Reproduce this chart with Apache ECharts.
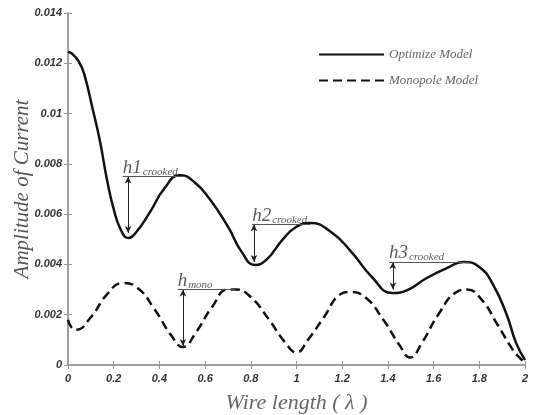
<!DOCTYPE html>
<html>
<head>
<meta charset="utf-8">
<script src="https://cdn.jsdelivr.net/npm/echarts@6/dist/echarts.min.js"></script>
<style>html,body{margin:0;padding:0;background:#fff;}#c{width:536px;height:415px;}</style>
</head>
<body>
<div id="c"></div>
<script>
// Optimize Model (solid)
var optX = [0, 0.015, 0.045, 0.07, 0.11, 0.14, 0.17, 0.2, 0.23, 0.263, 0.30, 0.36, 0.42, 0.49, 0.55, 0.62, 0.70, 0.76, 0.818, 0.87, 0.94, 1.0, 1.06, 1.15, 1.24, 1.33, 1.42, 1.49, 1.57, 1.66, 1.73, 1.80, 1.86, 1.92, 1.96, 2.0];
var optY = [0.01245, 0.0124, 0.0121, 0.0116, 0.0101, 0.0089, 0.0074, 0.0062, 0.0054, 0.00505, 0.0053, 0.0061, 0.0070, 0.00755, 0.0073, 0.0066, 0.0055, 0.0045, 0.00398, 0.0042, 0.0050, 0.0055, 0.00565, 0.0053, 0.0045, 0.0035, 0.00286, 0.0030, 0.00346, 0.00386, 0.0041, 0.0039, 0.0032, 0.0020, 0.0009, 0.0002];
// Monopole Model (dashed)
var monoX = [0, 0.015, 0.035, 0.1, 0.17, 0.24, 0.30, 0.38, 0.45, 0.503, 0.56, 0.63, 0.70, 0.735, 0.80, 0.88, 0.95, 1.0, 1.05, 1.12, 1.19, 1.234, 1.30, 1.38, 1.45, 1.497, 1.55, 1.62, 1.70, 1.746, 1.81, 1.88, 1.94, 1.975, 2.0];
var monoY = [0.0018, 0.0015, 0.0014, 0.0019, 0.0028, 0.00326, 0.0031, 0.0022, 0.0012, 0.00072, 0.0013, 0.0023, 0.0030, 0.0030, 0.0027, 0.0018, 0.0009, 0.0005, 0.0010, 0.0019, 0.0028, 0.0029, 0.0027, 0.0018, 0.0008, 0.0003, 0.0009, 0.0020, 0.0029, 0.0030, 0.0026, 0.0016, 0.0007, 0.0003, 0.0001];

var seriesNames = ['Optimize Model', 'Monopole Model'];
var xTicks = {min: 0, max: 2, interval: 0.2};
var yTicks = {min: 0, max: 0.014, interval: 0.002};

// Annotations: arrow x, arrow low y, arrow high y (= level), level line start x, end x
var annNames = ['h1', 'h2', 'h3', 'h'];
var annSubs = ['crooked', 'crooked', 'crooked', 'mono'];
var annArrowX = [0.263, 0.814, 1.422, 0.503];
var annLowY = [0.00525, 0.0041, 0.0030, 0.00076];
var annLevelY = [0.0075, 0.0056, 0.0041, 0.0030];
var annLineX0 = [0.24, 0.806, 1.405, 0.48];
var annLineX1 = [0.512, 1.06, 1.76, 0.73];

function pairs(xs, ys) { return xs.map(function (x, i) { return [x, ys[i]]; }); }

var markLines = [];
for (var i = 0; i < annNames.length; i++) {
  markLines.push([
    {coord: [annArrowX[i], annLowY[i]], symbol: 'arrow', symbolSize: [5, 7], lineStyle: {color: '#222', width: 1, type: 'solid'}},
    {coord: [annArrowX[i], annLevelY[i]], symbol: 'arrow', symbolSize: [5, 7]}
  ]);
  markLines.push([
    {coord: [annLineX0[i], annLevelY[i]], symbol: 'none', lineStyle: {color: '#555', width: 1.2, type: 'solid'}},
    {coord: [annLineX1[i], annLevelY[i]], symbol: 'none'}
  ]);
}
var labelData = annNames.map(function (n, i) {
  return {value: [annLineX0[i], annLevelY[i]], name: '{a|' + n + '}{b|' + annSubs[i] + '}'};
});

var serifFont = '"Liberation Serif", "DejaVu Serif", serif';
var axisLabelStyle = {fontFamily: '"Liberation Sans", Arial, sans-serif', fontWeight: 'bold', fontStyle: 'italic', fontSize: 11, color: '#333'};
var axisLineStyle = {lineStyle: {color: '#999', width: 1.5}};
var tickStyle = {inside: true, length: 4, lineStyle: {color: '#999', width: 1}};

var chart = echarts.init(document.getElementById('c'), null, {renderer: 'canvas'});
chart.setOption({
  animation: false,
  backgroundColor: '#fff',
  grid: {left: 68, right: 11, top: 13, bottom: 50, containLabel: false, outerBoundsMode: 'none'},
  legend: {
    data: seriesNames,
    orient: 'vertical',
    left: 313, top: 43,
    itemWidth: 65, itemHeight: 14, itemGap: 13,
    itemStyle: {opacity: 0},
    textStyle: {fontFamily: serifFont, fontStyle: 'italic', fontSize: 13, color: '#666'}
  },
  xAxis: [{
    type: 'value', position: 'bottom', min: xTicks.min, max: xTicks.max, interval: xTicks.interval,
    name: 'Wire length ( λ )', nameLocation: 'middle', nameGap: 27, nameMoveOverlap: false,
    nameTextStyle: {fontFamily: serifFont, fontStyle: 'italic', fontSize: 22, color: '#666'},
    axisLine: axisLineStyle, axisTick: tickStyle, splitLine: {show: false},
    axisLabel: Object.assign({margin: 8}, axisLabelStyle)
  }, {
    type: 'value', position: 'top', min: xTicks.min, max: xTicks.max, interval: xTicks.interval,
    axisLine: axisLineStyle, axisTick: tickStyle, splitLine: {show: false}, axisLabel: {show: false}
  }],
  yAxis: [{
    type: 'value', position: 'left', min: yTicks.min, max: yTicks.max, interval: yTicks.interval,
    name: 'Amplitude of Current', nameLocation: 'middle', nameGap: 35, nameRotate: 90, nameMoveOverlap: false,
    nameTextStyle: {fontFamily: serifFont, fontStyle: 'italic', fontSize: 21, color: '#555'},
    axisLine: axisLineStyle, axisTick: tickStyle, splitLine: {show: false},
    axisLabel: Object.assign({margin: 6}, axisLabelStyle)
  }, {
    type: 'value', position: 'right', min: yTicks.min, max: yTicks.max, interval: yTicks.interval,
    axisLine: axisLineStyle, axisTick: tickStyle, splitLine: {show: false}, axisLabel: {show: false}
  }],
  series: [{
    name: seriesNames[0], type: 'line', smooth: 0.5, symbol: 'none',
    data: pairs(optX, optY),
    lineStyle: {color: '#111', width: 2.5, type: 'solid'},
    itemStyle: {color: '#111'}
  }, {
    name: seriesNames[1], type: 'line', smooth: 0.5, symbol: 'none',
    data: pairs(monoX, monoY),
    lineStyle: {color: '#111', width: 2.5, type: [9, 5]},
    itemStyle: {color: '#111'}
  }, {
    name: 'annotations', type: 'scatter', symbolSize: 0, silent: true,
    data: labelData,
    label: {
      show: true, position: [0, 0], align: 'left', verticalAlign: 'bottom', offset: [0, 1],
      formatter: function (p) { return p.name; },
      rich: {
        a: {fontFamily: serifFont, fontStyle: 'italic', fontSize: 19, color: '#333', lineHeight: 19, verticalAlign: 'top', padding: [0, 1, 4, 0]},
        b: {fontFamily: serifFont, fontStyle: 'italic', fontSize: 11, color: '#333', lineHeight: 11, verticalAlign: 'bottom'}
      }
    },
    markLine: {silent: true, symbol: 'none', label: {show: false}, lineStyle: {type: 'solid'}, data: markLines}
  }]
});
</script>
</body>
</html>
